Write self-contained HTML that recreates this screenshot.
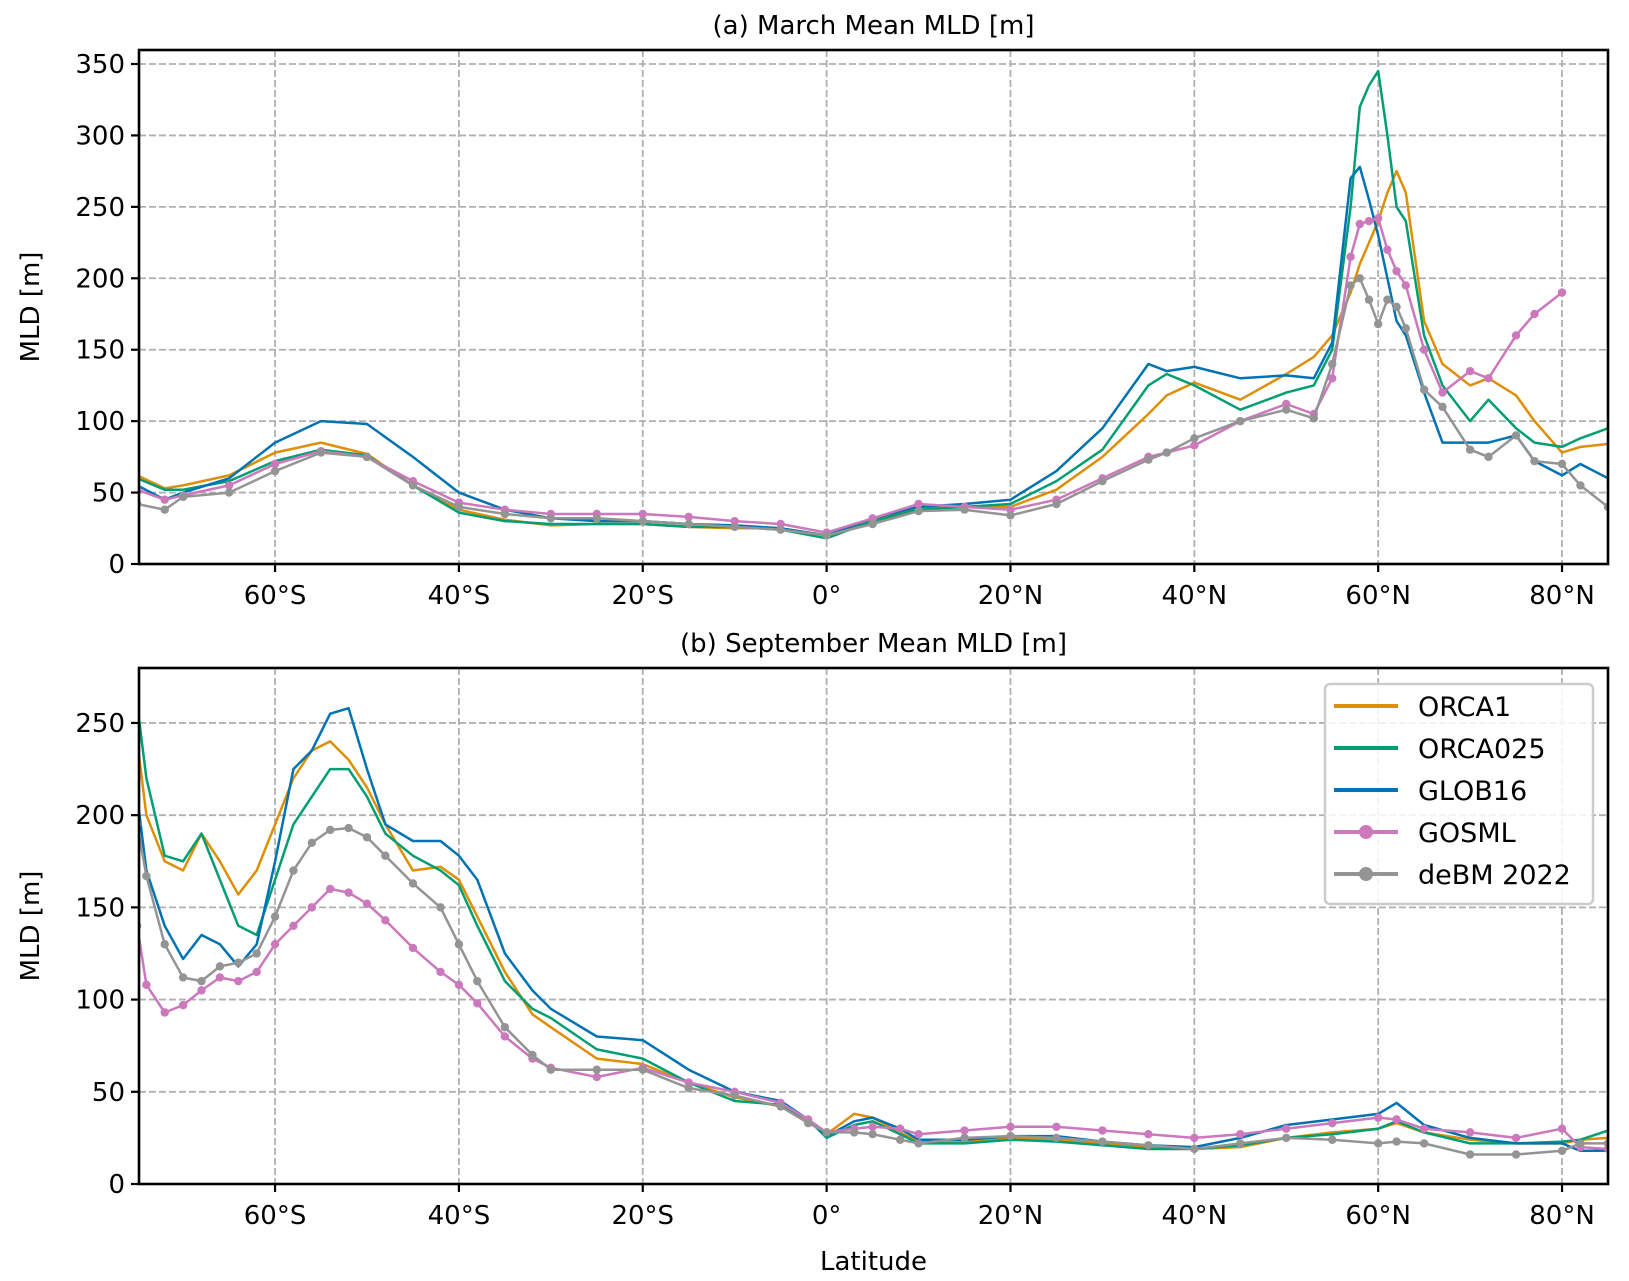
<!DOCTYPE html>
<html><head><meta charset="utf-8"><style>
html,body{margin:0;padding:0;background:#fff;}
svg{display:block;font-family:"DejaVu Sans","Liberation Sans",sans-serif;}
</style></head><body>
<svg id="chart" width="1629" height="1281" viewBox="0 0 1629 1281" xmlns="http://www.w3.org/2000/svg"></svg>
<script>
const latTicks = [-60,-40,-20,0,20,40,60,80];
const latTickLabels = ["60°S","40°S","20°S","0°","20°N","40°N","60°N","80°N"];
const topYTicks = [0,50,100,150,200,250,300,350];
const botYTicks = [0,50,100,150,200,250];
const seriesNames = ["ORCA1","ORCA025","GLOB16","GOSML","deBM 2022"];
const seriesColors = ["#de8f05","#029e73","#0173b2","#cc78bc","#949494"];

const latA = [-75,-72,-70,-65,-60,-55,-50,-45,-40,-35,-30,-25,-20,-15,-10,-5,0,5,10,15,20,25,30,35,37,40,45,50,53,55,57,58,59,60,61,62,63,65,67,70,72,75,77,80,82,85];
const orca1A = [62,53,55,62,78,85,77,55,38,31,27,28,28,26,25,25,20,30,40,40,40,52,75,105,118,127,115,133,145,160,190,210,225,240,260,275,260,170,140,125,130,118,100,78,82,84];
const orca025A = [60,52,52,58,72,80,76,55,36,30,28,28,28,26,26,24,18,30,38,40,42,58,80,125,133,125,108,120,125,150,250,320,335,345,300,250,240,160,125,100,115,95,85,82,88,95];
const glob16A = [55,45,50,60,85,100,98,75,50,38,32,30,30,28,27,25,20,32,40,42,45,65,95,140,135,138,130,132,130,155,270,278,255,230,200,170,160,120,85,85,85,90,72,62,70,60];
const gosmlA = [52,45,48,55,70,79,75,58,43,38,35,35,35,33,30,28,22,32,42,40,38,45,60,75,78,83,100,112,105,130,215,238,240,242,220,205,195,150,120,135,130,160,175,190,null,null];
const debmA = [42,38,47,50,65,78,75,55,40,35,32,32,30,28,26,24,20,28,37,38,34,42,58,73,78,88,100,108,102,140,195,200,185,168,185,180,165,122,110,80,75,90,72,70,55,40];

const latB = [-75,-74,-72,-70,-68,-66,-64,-62,-60,-58,-56,-54,-52,-50,-48,-45,-42,-40,-38,-35,-32,-30,-25,-20,-15,-10,-5,-2,0,3,5,8,10,15,20,25,30,35,40,45,50,55,60,62,65,70,75,80,82,85];
const orca1B = [240,200,175,170,190,175,157,170,195,220,235,240,230,215,195,170,172,165,145,115,92,85,68,65,55,47,42,35,27,38,36,28,23,23,25,24,22,20,19,20,25,28,30,33,28,24,22,22,24,25];
const orca025B = [260,220,178,175,190,165,140,135,165,195,210,225,225,210,190,178,170,162,140,110,95,90,73,68,55,45,43,35,25,32,34,27,22,22,24,23,21,19,19,21,25,27,30,34,28,22,22,23,24,29];
const glob16B = [210,170,140,122,135,130,118,130,175,225,235,255,258,225,195,186,186,178,165,125,105,95,80,78,62,50,45,35,26,34,36,30,24,24,26,26,23,21,20,25,32,35,38,44,32,25,22,22,18,18];
const gosmlB = [140,108,93,97,105,112,110,115,130,140,150,160,158,152,143,128,115,108,98,80,68,63,58,63,55,50,44,35,28,30,31,30,27,29,31,31,29,27,25,27,30,33,36,35,30,28,25,30,20,19];
const debmB = [195,167,130,112,110,118,120,125,145,170,185,192,193,188,178,163,150,130,110,85,70,62,62,62,52,48,42,33,28,28,27,24,22,25,26,25,23,21,19,22,25,24,22,23,22,16,16,18,22,22];

const NS="http://www.w3.org/2000/svg";
const svg=document.getElementById('chart');
function mk(tag,attrs,parent){const e=document.createElementNS(NS,tag);for(const k in attrs)e.setAttribute(k,attrs[k]);(parent||svg).appendChild(e);return e;}

const X0=139,X1=1608,LAT0=-74.8,LAT1=85.0;
function xs(lat){return X0+(lat-LAT0)/(LAT1-LAT0)*(X1-X0);}

function panel(cfg){
  const g=mk('g',{});
  
  
  const ys=v=>cfg.yb-(v/cfg.ymax)*(cfg.yb-cfg.yt);
  const clipId=cfg.name+'-clip';
  const cp=mk('clipPath',{id:clipId},g);
  mk('rect',{x:X0,y:cfg.yt,width:X1-X0,height:cfg.yb-cfg.yt},cp);
  latTicks.forEach(t=>{const l=mk('line',{x1:xs(t),x2:xs(t),y1:cfg.yt,y2:cfg.yb,stroke:'#b0b0b0','stroke-width':1.8,'stroke-dasharray':'7,3'},g);
    });
  cfg.yticks.forEach(t=>{const l=mk('line',{x1:X0,x2:X1,y1:ys(t),y2:ys(t),stroke:'#b0b0b0','stroke-width':1.8,'stroke-dasharray':'7,3'},g);
    });
  cfg.series.forEach((vals,i)=>{
    const sg=mk('g',{'clip-path':'url(#'+clipId+')'},g);
    
    
    let d='';let pen=false;
    vals.forEach((v,k)=>{if(v==null){pen=false;return;}d+=(pen?'L':'M')+xs(cfg.lats[k]).toFixed(1)+','+ys(v).toFixed(1);pen=true;});
    mk('path',{d:d,fill:'none',stroke:seriesColors[i],'stroke-width':2.5,'stroke-linejoin':'round'},sg);
    if(i>=3){vals.forEach((v,k)=>{if(v==null)return;const c=mk('circle',{cx:xs(cfg.lats[k]),cy:ys(v),r:4.2,fill:seriesColors[i]},sg);
      });}
  });
  const fr=mk('rect',{x:X0,y:cfg.yt,width:X1-X0,height:cfg.yb-cfg.yt,fill:'none',stroke:'#000','stroke-width':2.6},g);
  
  latTicks.forEach((t,i)=>{mk('line',{x1:xs(t),x2:xs(t),y1:cfg.yb,y2:cfg.yb+8,stroke:'#000','stroke-width':2.2},g);
    const tx=mk('text',{x:xs(t),y:cfg.yb+40,'text-anchor':'middle','font-size':26,fill:'#000'},g);tx.textContent=latTickLabels[i];
    });
  cfg.yticks.forEach(t=>{mk('line',{x1:X0-8,x2:X0,y1:ys(t),y2:ys(t),stroke:'#000','stroke-width':2.2},g);
    const tx=mk('text',{x:X0-14,y:ys(t)+9,'text-anchor':'end','font-size':26,fill:'#000'},g);tx.textContent=t;
    });
  const yl=mk('text',{x:0,y:0,transform:'translate(39,'+((cfg.yt+cfg.yb)/2)+') rotate(-90)','text-anchor':'middle','font-size':26,fill:'#000'},g);
  yl.textContent='MLD [m]';
  const ti=mk('text',{x:(X0+X1)/2,y:cfg.yt-16,'text-anchor':'middle','font-size':26,fill:'#000'},g);
  ti.textContent=cfg.title;
}
panel({name:'march-panel',title:'(a) March Mean MLD [m]',yt:50,yb:564,ymax:359.8,yticks:topYTicks,lats:latA,series:[orca1A,orca025A,glob16A,gosmlA,debmA]});
panel({name:'september-panel',title:'(b) September Mean MLD [m]',yt:668,yb:1184,ymax:279.8,yticks:botYTicks,lats:latB,series:[orca1B,orca025B,glob16B,gosmlB,debmB]});

const xl=mk('text',{x:(X0+X1)/2,y:1270,'text-anchor':'middle','font-size':26,fill:'#000'});
xl.textContent='Latitude';



const lg=mk('g',{});


mk('rect',{x:1325,y:684,width:268,height:220,rx:5,fill:'#fff','fill-opacity':0.85,stroke:'#cccccc','stroke-width':2.5},lg);
seriesNames.forEach((n,i)=>{
  const y=706+i*42;
  const eg=mk('g',{},lg);
  
  
  mk('line',{x1:1334,x2:1398,y1:y,y2:y,stroke:seriesColors[i],'stroke-width':4},eg);
  if(i>=3)mk('circle',{cx:1366,cy:y,r:7,fill:seriesColors[i]},eg);
  const t=mk('text',{x:1418,y:y+10,'font-size':27,fill:'#000'},eg);t.textContent=n;
});
</script>
</body></html>
